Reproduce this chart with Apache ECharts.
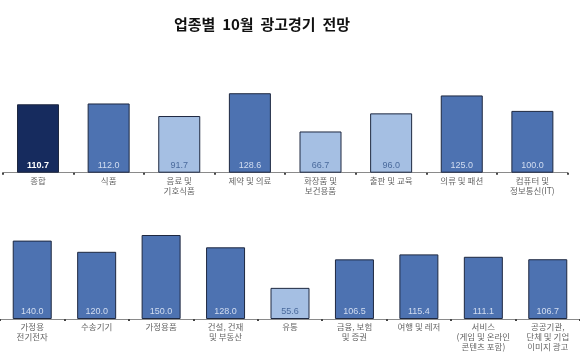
<!DOCTYPE html>
<html><head><meta charset="utf-8">
<script src="https://cdn.jsdelivr.net/npm/echarts@6/dist/echarts.min.js"></script>
<style>html,body{margin:0;padding:0;background:#fff}#c{width:580px;height:355px}</style>
</head><body><div id="c"></div>
<script>
const titleText = '업종별  10월  광고경기  전망';
const topCategories = ['종합','식품','음료 및\n기호식품','제약 및 의료','화장품 및\n보건용품','출판 및 교육','의류 및 패션','컴퓨터 및\n정보통신(IT)'];
const topValues = [110.7,112.0,91.7,128.6,66.7,96.0,125.0,100.0];
const bottomCategories = ['가정용\n전기전자','수송기기','가정용품','건설, 건재\n및 부동산','유통','금융, 보험\n및 증권','여행 및 레저','서비스\n(게임 및 온라인\n콘텐츠 포함)','공공기관,\n단체 및 기업\n이미지 광고'];
const bottomValues = [140.0,120.0,150.0,128.0,55.6,106.5,115.4,111.1,106.7];

const DARK='#162b5e', MED='#4d72b1', LIGHT='#a5bfe3';
function styled(vals, highlightFirst){
  return vals.map((v,i)=>{
    let fill, lab, bold='normal';
    if(highlightFirst && i===0){fill=DARK;lab='#ffffff';bold='bold';}
    else if(v<100){fill=LIGHT;lab='#4a6a9c';}
    else {fill=MED;lab='#d2ddf1';}
    return {value:v,itemStyle:{color:fill},label:{color:lab,fontWeight:bold}};
  });
}
const font='"Noto Sans CJK KR", sans-serif';
function xAx(gi,cats){
  return {type:'category',gridIndex:gi,data:cats,
    axisLine:{lineStyle:{color:'#8a8a8a',width:1}},
    axisTick:{show:true,length:2,lineStyle:{color:'#444',width:2}},
    axisLabel:{interval:0,color:'#666',fontSize:8.5,fontFamily:font,lineHeight:10,margin:3}};
}
function yAx(gi){return {type:'value',gridIndex:gi,min:0,max:150,show:false,splitLine:{show:false}};}
function ser(gi,vals,hl,bw){
  return {type:'bar',xAxisIndex:gi,yAxisIndex:gi,barWidth:bw,data:styled(vals,hl),
    itemStyle:{borderColor:'#1e2840',borderWidth:1},
    label:{show:true,position:'insideBottom',distance:3,fontSize:9,fontFamily:'Arial, "Liberation Sans", sans-serif',formatter:p=>p.value.toFixed(1)}};
}
const chart=echarts.init(document.getElementById('c'),null,{renderer:'canvas'});
chart.setOption({
  animation:false,
  title:{text:titleText,left:257,top:12,textAlign:'center',textStyle:{fontSize:15,fontWeight:'bold',color:'#111',fontFamily:font}},
  grid:[{left:2.7,width:565,top:80,height:92.7},{left:-1,width:581,top:235,height:84}],
  xAxis:[xAx(0,topCategories),xAx(1,bottomCategories)],
  yAxis:[yAx(0),yAx(1)],
  series:[ser(0,topValues,true,42),ser(1,bottomValues,false,39)]
});
</script></body></html>
